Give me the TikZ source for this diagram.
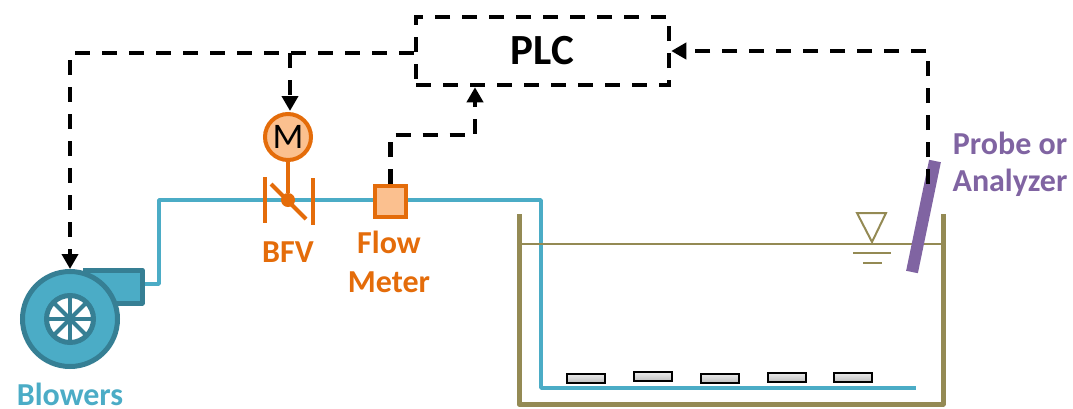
\documentclass[tikz,border=0pt]{standalone}
\usepackage{fontspec}
\setmainfont{Carlito}
\usetikzlibrary{arrows.meta}
\definecolor{pipeblue}{HTML}{4BACC6}
\definecolor{darkblue}{HTML}{367F94}
\definecolor{valveorange}{HTML}{E46C0A}
\definecolor{lightorange}{HTML}{FBC08F}
\definecolor{probepurple}{HTML}{8064A2}
\definecolor{tankolive}{HTML}{948A54}

\begin{document}
\begin{tikzpicture}[
    x=1pt, y=-1pt,
    signal/.style={black, line width=4.5pt, dash pattern=on 15pt off 12pt, -{Triangle[length=15pt,width=16pt]}},
    pipe/.style={pipeblue, line width=3.5pt, line join=round},
    valve/.style={valveorange, line width=4pt},
    water/.style={tankolive, line width=2pt},
    diffuser/.style={draw=black, line width=2pt, top color=gray!15, bottom color=gray!50, minimum width=38pt, minimum height=9pt, inner sep=0pt},
    lbl/.style={font=\bfseries\fontsize{32}{32}\selectfont, inner sep=0pt}
]
  \useasboundingbox (0,0) rectangle (1073,408);

  % --- PIPE ---
  \coordinate (outlet) at (142,284);
  \coordinate (rise) at (159,284);
  \coordinate (top) at (159,200);
  \coordinate (drop) at (541,200);
  \coordinate (floor) at (541,388);
  \coordinate (pipeend) at (916,388);
  \draw[pipe] (outlet) -- (rise) -- (top) -- (drop) -- (floor) -- (pipeend);

  % --- BLOWER ---
  \draw[fill=pipeblue, draw=darkblue, line width=5pt, line join=round] (83,270) -- (142,270) -- (142,303) -- (112,303);
  \node[circle, draw=darkblue, fill=pipeblue, line width=5pt, minimum size=95pt] (blower) at (70,319) {};
  \node[circle, draw=darkblue, fill=white, line width=5pt, minimum size=47pt] (hub) at (70,319) {};
  \foreach \a in {0,45,...,315}
    \draw[darkblue, line width=4pt] (hub.center) -- ++(\a:24);
  \node[lbl, text=pipeblue] (blowerlbl) at (70,394.5) {Blowers};

  % --- VALVE AND MOTOR ---
  \node[circle, draw=valveorange, fill=lightorange, line width=4pt, minimum size=46pt, inner sep=0pt, font=\fontsize{36}{36}\selectfont] (motor) at (288,137) {M};
  \node[circle, fill=valveorange, inner sep=0pt, minimum size=14pt] (disc) at (288,200) {};
  \draw[valve] (motor) -- (disc);
  \draw[valve] (271,184) -- (306,219);
  \draw[valve] (265,177) -- (265,223);
  \draw[valve] (313,178) -- (313,225);
  \node[lbl, text=valveorange] (bfv) at (288,252) {BFV};

  % --- FLOW METER ---
  \node[rectangle, draw=valveorange, fill=lightorange, line width=4pt, minimum size=31pt, inner sep=0pt] (meter) at (390.5,201.5) {};
  \node[lbl, text=valveorange] (flow) at (389,242) {Flow};
  \node[lbl, text=valveorange] (meterlbl) at (389,282) {Meter};

  % --- TANK ---
  \draw[tankolive, line width=5pt, line join=round] (519,214) -- (519,404) -- (943,404) -- (943,214);
  \draw[water] (519,244) -- (943,244);
  \draw[water] (857,213) -- (886,213) -- (872,242) -- cycle;
  \draw[water] (853,253) -- (891,253);
  \draw[water] (863,263) -- (882,263);

  % --- DIFFUSERS ---
  \foreach \i/\x/\y in {1/585.5/378, 2/652.5/376.5, 3/719.5/378, 4/786.5/377, 5/853/377}
    \node[diffuser] (d\i) at (\x,\y) {};

  % --- PROBE ---
  \coordinate (probetop) at (935,161);
  \coordinate (probebot) at (912,272);
  \draw[probepurple, line width=12pt] (probetop) -- (probebot);
  \node[lbl, text=probepurple] (probe) at (1010,143) {Probe or};
  \node[lbl, text=probepurple] (analyzer) at (1010,183) {Analyzer};

  % --- PLC AND SIGNALS ---
  \node[rectangle, draw=black, line width=4.5pt, dash pattern=on 15pt off 12pt, minimum width=253pt, minimum height=68pt, font=\bfseries\fontsize{43}{43}\selectfont] (plc) at (542.5,51) {PLC};

  \coordinate (plcleft) at (plc.west |- 0,53);
  \coordinate (blowcorner) at (blower.north |- plcleft);
  \coordinate (motorcorner) at (290,53);
  \coordinate (motorarrow) at (290,111);
  \coordinate (metermid) at (meter.north |- 0,135);
  \coordinate (plcmid) at (475,135);
  \coordinate (probestart) at (928,184);
  \coordinate (probecorner) at (928,51);

  \draw[signal] (plcleft) -- (blowcorner) -- (blower.north);
  \draw[signal] (motorcorner) -- (motorarrow);
  \draw[signal] (meter.north) -- (metermid) -- (plcmid) -- (plcmid |- plc.south);
  \draw[signal] (probestart) -- (probecorner) -- (plc.east);
\end{tikzpicture}
\end{document}
